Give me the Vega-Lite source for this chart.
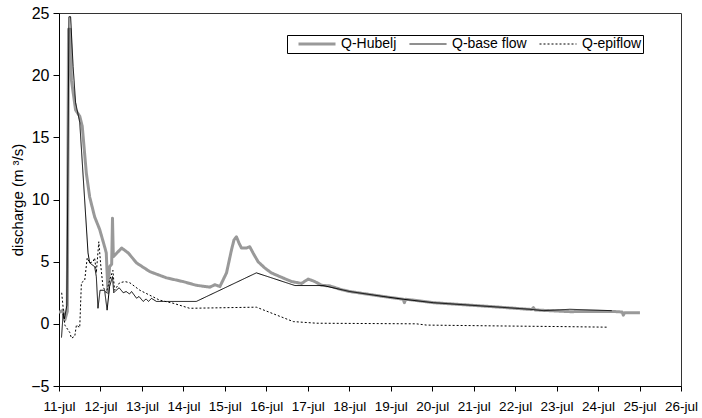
{
  "$schema": "https://vega.github.io/schema/vega-lite/v6.json",
  "width": 622,
  "height": 373,
  "autosize": "none",
  "padding": {"left": 59, "top": 13, "right": 21, "bottom": 32},
  "background": "white",
  "config": {
    "view": {"stroke": "#333333", "strokeWidth": 1},
    "font": "Liberation Sans"
  },
  "data": {
    "values": [
      {"s": "Q-Hubelj", "d": 0.00, "q": 0.9},
      {"s": "Q-Hubelj", "d": 0.09, "q": 1.1},
      {"s": "Q-Hubelj", "d": 0.14, "q": 0.3},
      {"s": "Q-Hubelj", "d": 0.20, "q": 1.0},
      {"s": "Q-Hubelj", "d": 0.23, "q": 23.7},
      {"s": "Q-Hubelj", "d": 0.27, "q": 23.7},
      {"s": "Q-Hubelj", "d": 0.30, "q": 19.6},
      {"s": "Q-Hubelj", "d": 0.40, "q": 17.2},
      {"s": "Q-Hubelj", "d": 0.50, "q": 16.7},
      {"s": "Q-Hubelj", "d": 0.56, "q": 15.9},
      {"s": "Q-Hubelj", "d": 0.66, "q": 12.1},
      {"s": "Q-Hubelj", "d": 0.74, "q": 10.2},
      {"s": "Q-Hubelj", "d": 0.86, "q": 8.6},
      {"s": "Q-Hubelj", "d": 0.98, "q": 7.6},
      {"s": "Q-Hubelj", "d": 1.10, "q": 6.2},
      {"s": "Q-Hubelj", "d": 1.14, "q": 5.7},
      {"s": "Q-Hubelj", "d": 1.18, "q": 2.5},
      {"s": "Q-Hubelj", "d": 1.22, "q": 4.6},
      {"s": "Q-Hubelj", "d": 1.27, "q": 4.8},
      {"s": "Q-Hubelj", "d": 1.29, "q": 8.5},
      {"s": "Q-Hubelj", "d": 1.31, "q": 5.4},
      {"s": "Q-Hubelj", "d": 1.37, "q": 5.6},
      {"s": "Q-Hubelj", "d": 1.51, "q": 6.1},
      {"s": "Q-Hubelj", "d": 1.67, "q": 5.7},
      {"s": "Q-Hubelj", "d": 1.87, "q": 4.9},
      {"s": "Q-Hubelj", "d": 2.19, "q": 4.2},
      {"s": "Q-Hubelj", "d": 2.59, "q": 3.7},
      {"s": "Q-Hubelj", "d": 2.99, "q": 3.4},
      {"s": "Q-Hubelj", "d": 3.31, "q": 3.1},
      {"s": "Q-Hubelj", "d": 3.64, "q": 2.95},
      {"s": "Q-Hubelj", "d": 3.76, "q": 3.15},
      {"s": "Q-Hubelj", "d": 3.88, "q": 3.0},
      {"s": "Q-Hubelj", "d": 4.04, "q": 4.1},
      {"s": "Q-Hubelj", "d": 4.16, "q": 5.95},
      {"s": "Q-Hubelj", "d": 4.22, "q": 6.75},
      {"s": "Q-Hubelj", "d": 4.28, "q": 7.0},
      {"s": "Q-Hubelj", "d": 4.34, "q": 6.5},
      {"s": "Q-Hubelj", "d": 4.40, "q": 6.1},
      {"s": "Q-Hubelj", "d": 4.52, "q": 6.1},
      {"s": "Q-Hubelj", "d": 4.60, "q": 6.2},
      {"s": "Q-Hubelj", "d": 4.68, "q": 5.7},
      {"s": "Q-Hubelj", "d": 4.80, "q": 5.0},
      {"s": "Q-Hubelj", "d": 4.96, "q": 4.5},
      {"s": "Q-Hubelj", "d": 5.12, "q": 4.1},
      {"s": "Q-Hubelj", "d": 5.36, "q": 3.75},
      {"s": "Q-Hubelj", "d": 5.61, "q": 3.4},
      {"s": "Q-Hubelj", "d": 5.85, "q": 3.25},
      {"s": "Q-Hubelj", "d": 6.01, "q": 3.6},
      {"s": "Q-Hubelj", "d": 6.17, "q": 3.4},
      {"s": "Q-Hubelj", "d": 6.33, "q": 3.1},
      {"s": "Q-Hubelj", "d": 6.53, "q": 3.05},
      {"s": "Q-Hubelj", "d": 6.81, "q": 2.75},
      {"s": "Q-Hubelj", "d": 7.01, "q": 2.6},
      {"s": "Q-Hubelj", "d": 7.82, "q": 2.2},
      {"s": "Q-Hubelj", "d": 8.30, "q": 1.98},
      {"s": "Q-Hubelj", "d": 8.33, "q": 1.7},
      {"s": "Q-Hubelj", "d": 8.36, "q": 1.98},
      {"s": "Q-Hubelj", "d": 9.03, "q": 1.7},
      {"s": "Q-Hubelj", "d": 9.83, "q": 1.52},
      {"s": "Q-Hubelj", "d": 10.63, "q": 1.34},
      {"s": "Q-Hubelj", "d": 11.40, "q": 1.15},
      {"s": "Q-Hubelj", "d": 11.44, "q": 1.3},
      {"s": "Q-Hubelj", "d": 11.48, "q": 1.12},
      {"s": "Q-Hubelj", "d": 12.32, "q": 0.98},
      {"s": "Q-Hubelj", "d": 13.33, "q": 1.0},
      {"s": "Q-Hubelj", "d": 13.58, "q": 0.95},
      {"s": "Q-Hubelj", "d": 13.61, "q": 0.7},
      {"s": "Q-Hubelj", "d": 13.64, "q": 0.9},
      {"s": "Q-Hubelj", "d": 14.01, "q": 0.9},

      {"s": "Q-base flow", "d": 0.06, "q": -1.1},
      {"s": "Q-base flow", "d": 0.10, "q": 0.8},
      {"s": "Q-base flow", "d": 0.13, "q": 0.4},
      {"s": "Q-base flow", "d": 0.19, "q": 1.5},
      {"s": "Q-base flow", "d": 0.24, "q": 24.7},
      {"s": "Q-base flow", "d": 0.28, "q": 24.7},
      {"s": "Q-base flow", "d": 0.34, "q": 20.7},
      {"s": "Q-base flow", "d": 0.40, "q": 17.8},
      {"s": "Q-base flow", "d": 0.50, "q": 16.2},
      {"s": "Q-base flow", "d": 0.70, "q": 5.7},
      {"s": "Q-base flow", "d": 0.74, "q": 4.9},
      {"s": "Q-base flow", "d": 0.86, "q": 4.6},
      {"s": "Q-base flow", "d": 0.90, "q": 3.8},
      {"s": "Q-base flow", "d": 0.94, "q": 1.25},
      {"s": "Q-base flow", "d": 0.99, "q": 2.7},
      {"s": "Q-base flow", "d": 1.10, "q": 2.7},
      {"s": "Q-base flow", "d": 1.16, "q": 1.1},
      {"s": "Q-base flow", "d": 1.22, "q": 3.0},
      {"s": "Q-base flow", "d": 1.29, "q": 3.8},
      {"s": "Q-base flow", "d": 1.32, "q": 2.5},
      {"s": "Q-base flow", "d": 1.38, "q": 2.7},
      {"s": "Q-base flow", "d": 1.45, "q": 2.9},
      {"s": "Q-base flow", "d": 1.55, "q": 2.5},
      {"s": "Q-base flow", "d": 1.62, "q": 2.6},
      {"s": "Q-base flow", "d": 1.70, "q": 2.4},
      {"s": "Q-base flow", "d": 1.75, "q": 2.6},
      {"s": "Q-base flow", "d": 1.87, "q": 2.06},
      {"s": "Q-base flow", "d": 1.93, "q": 2.2},
      {"s": "Q-base flow", "d": 2.03, "q": 1.8},
      {"s": "Q-base flow", "d": 2.10, "q": 2.0},
      {"s": "Q-base flow", "d": 2.16, "q": 1.8},
      {"s": "Q-base flow", "d": 2.23, "q": 2.05},
      {"s": "Q-base flow", "d": 2.35, "q": 1.8},
      {"s": "Q-base flow", "d": 2.51, "q": 1.8},
      {"s": "Q-base flow", "d": 3.31, "q": 1.8},
      {"s": "Q-base flow", "d": 4.76, "q": 4.1},
      {"s": "Q-base flow", "d": 5.69, "q": 3.08},
      {"s": "Q-base flow", "d": 6.37, "q": 3.08},
      {"s": "Q-base flow", "d": 7.01, "q": 2.6},
      {"s": "Q-base flow", "d": 7.82, "q": 2.2},
      {"s": "Q-base flow", "d": 8.30, "q": 1.98},
      {"s": "Q-base flow", "d": 9.03, "q": 1.7},
      {"s": "Q-base flow", "d": 9.83, "q": 1.52},
      {"s": "Q-base flow", "d": 10.63, "q": 1.34},
      {"s": "Q-base flow", "d": 11.36, "q": 1.17},
      {"s": "Q-base flow", "d": 11.68, "q": 1.06},
      {"s": "Q-base flow", "d": 12.32, "q": 1.17},
      {"s": "Q-base flow", "d": 13.33, "q": 1.06},

      {"s": "Q-epiflow", "d": 0.065, "q": 2.5},
      {"s": "Q-epiflow", "d": 0.14, "q": -0.1},
      {"s": "Q-epiflow", "d": 0.26, "q": -0.7},
      {"s": "Q-epiflow", "d": 0.30, "q": -1.16},
      {"s": "Q-epiflow", "d": 0.38, "q": -1.0},
      {"s": "Q-epiflow", "d": 0.42, "q": -0.1},
      {"s": "Q-epiflow", "d": 0.50, "q": -0.3},
      {"s": "Q-epiflow", "d": 0.54, "q": 3.3},
      {"s": "Q-epiflow", "d": 0.62, "q": 3.5},
      {"s": "Q-epiflow", "d": 0.68, "q": 5.3},
      {"s": "Q-epiflow", "d": 0.74, "q": 4.9},
      {"s": "Q-epiflow", "d": 0.82, "q": 5.0},
      {"s": "Q-epiflow", "d": 0.86, "q": 5.3},
      {"s": "Q-epiflow", "d": 0.90, "q": 4.1},
      {"s": "Q-epiflow", "d": 0.96, "q": 6.6},
      {"s": "Q-epiflow", "d": 1.01, "q": 4.6},
      {"s": "Q-epiflow", "d": 1.06, "q": 3.0},
      {"s": "Q-epiflow", "d": 1.14, "q": 2.5},
      {"s": "Q-epiflow", "d": 1.22, "q": 3.5},
      {"s": "Q-epiflow", "d": 1.30, "q": 4.3},
      {"s": "Q-epiflow", "d": 1.34, "q": 2.7},
      {"s": "Q-epiflow", "d": 1.46, "q": 3.3},
      {"s": "Q-epiflow", "d": 1.59, "q": 3.4},
      {"s": "Q-epiflow", "d": 1.71, "q": 3.3},
      {"s": "Q-epiflow", "d": 1.95, "q": 2.7},
      {"s": "Q-epiflow", "d": 2.19, "q": 2.3},
      {"s": "Q-epiflow", "d": 2.43, "q": 1.9},
      {"s": "Q-epiflow", "d": 2.75, "q": 1.66},
      {"s": "Q-epiflow", "d": 3.15, "q": 1.25},
      {"s": "Q-epiflow", "d": 4.76, "q": 1.34},
      {"s": "Q-epiflow", "d": 5.65, "q": 0.18},
      {"s": "Q-epiflow", "d": 6.21, "q": 0.05},
      {"s": "Q-epiflow", "d": 8.62, "q": 0.0},
      {"s": "Q-epiflow", "d": 8.86, "q": -0.1},
      {"s": "Q-epiflow", "d": 10.63, "q": -0.17},
      {"s": "Q-epiflow", "d": 12.08, "q": -0.22},
      {"s": "Q-epiflow", "d": 13.25, "q": -0.27}
    ]
  },
  "mark": {"type": "line", "clip": true, "strokeJoin": "round"},
  "encoding": {
    "x": {
      "field": "d",
      "type": "quantitative",
      "scale": {"domain": [0, 15], "nice": false, "zero": false},
      "axis": {
        "values": [0, 1, 2, 3, 4, 5, 6, 7, 8, 9, 10, 11, 12, 13, 14, 15],
        "labelExpr": "(datum.value + 11) + '-jul'",
        "title": null,
        "grid": false,
        "domainColor": "#000000",
        "tickColor": "#000000",
        "tickSize": 5,
        "labelPadding": 8,
        "labelFont": "Liberation Sans",
        "labelFontSize": 13.5,
        "labelColor": "#000000",
        "labelOverlap": false,
        "labelFlush": false
      }
    },
    "y": {
      "field": "q",
      "type": "quantitative",
      "scale": {"domain": [-5, 25], "nice": false, "zero": false},
      "axis": {
        "values": [-5, 0, 5, 10, 15, 20, 25],
        "title": "discharge (m ³/s)",
        "titleFont": "Liberation Sans",
        "titleFontSize": 15,
        "titleFontWeight": "normal",
        "titleColor": "#000000",
        "titlePadding": 5,
        "grid": false,
        "domainColor": "#000000",
        "tickColor": "#000000",
        "tickSize": 6,
        "labelPadding": 4,
        "labelFont": "Liberation Sans",
        "labelFontSize": 16,
        "labelColor": "#000000"
      }
    },
    "color": {
      "field": "s",
      "type": "nominal",
      "scale": {"domain": ["Q-Hubelj", "Q-base flow", "Q-epiflow"], "range": ["#999999", "#000000", "#000000"]},
      "legend": {
        "title": null,
        "orient": "none",
        "legendX": 228,
        "legendY": 22,
        "direction": "horizontal",
        "columns": 3,
        "strokeColor": "#000000",
        "fillColor": "white",
        "padding": 1,
        "clipHeight": 16,
        "symbolType": "stroke",
        "symbolSize": 1369,
        "symbolOffset": 9,
        "columnPadding": 2,
        "labelOffset": 4,
        "labelFont": "Liberation Sans",
        "labelFontSize": 14,
        "labelColor": "#000000"
      }
    },
    "strokeDash": {
      "field": "s",
      "type": "nominal",
      "scale": {"domain": ["Q-Hubelj", "Q-base flow", "Q-epiflow"], "range": [[1, 0], [1, 0], [2, 2]]},
      "legend": {
        "title": null,
        "orient": "none",
        "legendX": 228,
        "legendY": 22,
        "direction": "horizontal",
        "columns": 3,
        "strokeColor": "#000000",
        "fillColor": "white",
        "padding": 1,
        "clipHeight": 16,
        "symbolType": "stroke",
        "symbolSize": 1369,
        "symbolOffset": 9,
        "columnPadding": 2,
        "labelOffset": 4,
        "labelFont": "Liberation Sans",
        "labelFontSize": 14,
        "labelColor": "#000000"
      }
    },
    "strokeWidth": {
      "field": "s",
      "type": "nominal",
      "scale": {"type": "ordinal", "domain": ["Q-Hubelj", "Q-base flow", "Q-epiflow"], "range": [3, 1, 1]},
      "legend": {
        "title": null,
        "orient": "none",
        "legendX": 228,
        "legendY": 22,
        "direction": "horizontal",
        "columns": 3,
        "strokeColor": "#000000",
        "fillColor": "white",
        "padding": 1,
        "clipHeight": 16,
        "symbolType": "stroke",
        "symbolSize": 1369,
        "symbolOffset": 9,
        "columnPadding": 2,
        "labelOffset": 4,
        "labelFont": "Liberation Sans",
        "labelFontSize": 14,
        "labelColor": "#000000"
      }
    }
  }
}
